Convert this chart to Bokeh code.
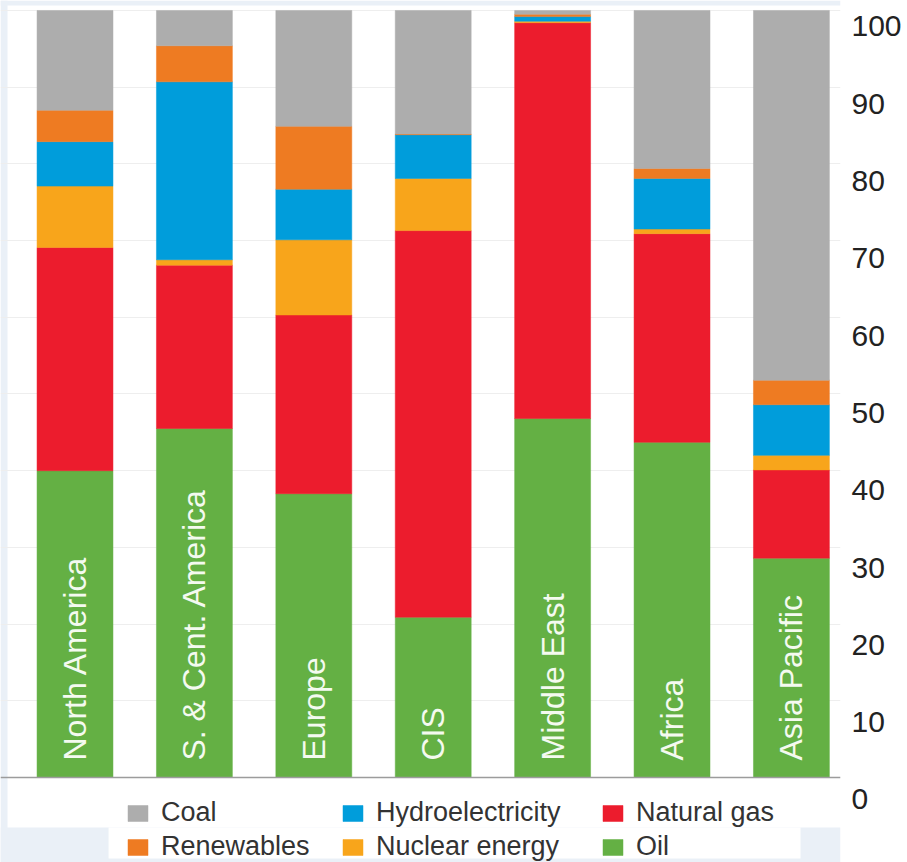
import math
from bokeh.plotting import figure
from bokeh.models import (Range1d, LinearAxis, FixedTicker, Grid, Span, Legend,
                          LegendItem, BoxAnnotation, ColumnDataSource)
from bokeh.core.properties import value
from bokeh.embed import file_html
from bokeh.resources import INLINE

# ---------------- data ----------------
regions = ["North America", "S. & Cent. America", "Europe", "CIS",
           "Middle East", "Africa", "Asia Pacific"]
oil = [40.0, 45.5, 37.0, 20.9, 46.8, 43.7, 28.6]
natural_gas = [29.1, 21.3, 23.3, 50.4, 51.6, 27.2, 11.5]
nuclear = [8.0, 0.7, 9.8, 6.8, 0.2, 0.6, 1.9]
hydro = [5.8, 23.2, 6.6, 5.7, 0.6, 6.6, 6.6]
renewables = [4.1, 4.7, 8.2, 0.1, 0.3, 1.3, 3.2]
coal = [13.0, 4.6, 15.1, 16.1, 0.5, 20.6, 48.2]

series_keys = ["oil", "gas", "nuclear", "hydro", "renew", "coal"]
series_names = ["Oil", "Natural gas", "Nuclear energy", "Hydroelectricity",
                "Renewables", "Coal"]
series_colors = ["#64B044", "#EC1C2D", "#F8A51B", "#009DDB", "#EE7B22", "#ADADAD"]
y_ticks = [0, 10, 20, 30, 40, 50, 60, 70, 80, 90, 100]

# ---------------- figure ----------------
W, H = 907, 862
p = figure(width=W, height=H, output_backend="svg", toolbar_location=None,
           x_range=Range1d(-0.624, 6.411), y_range=Range1d(-11.08, 101.30),
           x_axis_location=None, y_axis_location=None,
           min_border_left=0, min_border_top=0, min_border_bottom=0,
           min_border_right=67)
p.outline_line_color = None
p.background_fill_color = "white"
p.border_fill_color = "white"
p.xgrid.visible = False
p.ygrid.visible = False

# light bluish page edges
edge = "#EAF0F7"
p.add_layout(BoxAnnotation(top=-6.52, fill_color=edge, fill_alpha=1,
                           line_color=None, level="underlay"))
p.add_layout(BoxAnnotation(left=0.281, right=6.076, top=-6.52, bottom=-10.56,
                           fill_color="white", fill_alpha=1, line_color=None,
                           level="underlay"))
p.add_layout(BoxAnnotation(right=-0.565, fill_color=edge, fill_alpha=1,
                           line_color=None, level="underlay"))
p.add_layout(BoxAnnotation(bottom=100.65, fill_color=edge, fill_alpha=1,
                           line_color=None, level="underlay"))

# grid
p.add_layout(Grid(dimension=1, ticker=FixedTicker(ticks=y_ticks),
                  grid_line_color="#EEEEEE", grid_line_width=1))

# stacked bars
src = ColumnDataSource(dict(x=list(range(len(regions))), region=regions,
                            oil=oil, gas=natural_gas, nuclear=nuclear,
                            hydro=hydro, renew=renewables, coal=coal,
                            base=[0] * len(regions)))
renderers = p.vbar_stack(series_keys, x="x", width=0.636, source=src,
                         fill_color=series_colors, line_color=series_colors,
                         line_width=0.5)

# baseline
p.add_layout(Span(location=0, dimension="width", line_color="#9C9C9C",
                  line_width=1.5))

# region labels inside bars
p.text(x="x", y="base", text="region", source=src, angle=math.pi / 2,
       text_align="left", text_baseline="alphabetic", y_offset=-17,
       text_font=value("Liberation Sans"), text_font_size="32px",
       text_color="#F4FAF0")

# right axis (labels sit slightly below their gridlines)
p.extra_y_ranges = {"lab": Range1d(-8.15, 103.36)}
ax = LinearAxis(y_range_name="lab", ticker=FixedTicker(ticks=y_ticks))
ax.axis_line_color = None
ax.major_tick_line_color = None
ax.minor_tick_line_color = None
ax.major_label_standoff = 5
ax.major_label_text_font = "Liberation Sans"
ax.major_label_text_font_size = "30px"
ax.major_label_text_color = "#222222"
p.add_layout(ax, "right")

# legend: three columns of two items
by_name = dict(zip(series_names, renderers))
columns = [(["Coal", "Renewables"], 125),
           (["Hydroelectricity", "Nuclear energy"], 340),
           (["Natural gas", "Oil"], 600)]
for names, xloc in columns:
    leg = Legend(items=[LegendItem(label=n, renderers=[by_name[n]]) for n in names],
                 location=(xloc, 0), orientation="vertical",
                 glyph_width=25, glyph_height=20, label_height=20,
                 label_standoff=11, spacing=3, padding=0, margin=0,
                 border_line_color=None, background_fill_alpha=0,
                 label_text_font="Liberation Sans", label_text_font_size="27px",
                 label_text_color="#333333")
    p.add_layout(leg, "center")

open("out.html", "w").write(file_html(p, INLINE))
